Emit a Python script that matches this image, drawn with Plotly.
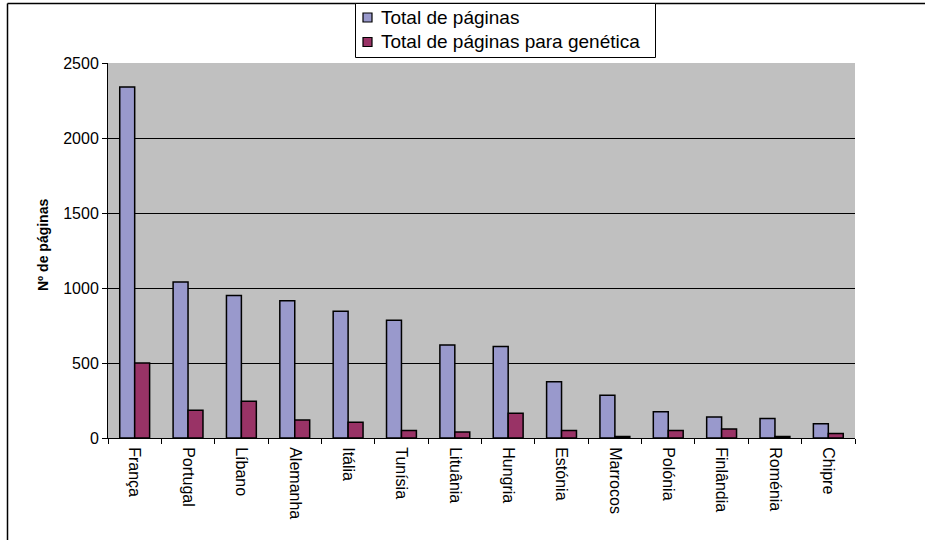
import plotly.graph_objects as go

paises = ["França", "Portugal", "Líbano", "Alemanha", "Itália", "Tunísia", "Lituânia",
          "Hungria", "Estónia", "Marrocos", "Polónia", "Finlândia", "Roménia", "Chipre"]
total_paginas = [2340, 1040, 950, 915, 845, 785, 620, 610, 375, 285, 175, 140, 130, 95]
total_genetica = [500, 185, 245, 120, 105, 50, 40, 165, 50, 10, 50, 60, 10, 30]
y_ticks = [0, 500, 1000, 1500, 2000, 2500]

series_names = ["Total de páginas", "Total de páginas para genética"]
series_colors = ["#9999CC", "#993366"]

FONT = "Liberation Sans, Arial, sans-serif"

fig = go.Figure()
for name, vals, col in zip(series_names, [total_paginas, total_genetica], series_colors):
    fig.add_trace(go.Bar(
        x=paises, y=vals, name=name,
        marker=dict(color=col, line=dict(color="#000000", width=1.5)),
    ))

# plot area in pixels: left 108, right 855, top 63, bottom 438
L, R, T, B = 108, 855, 63, 438
W, H = R - L, B - T

def px(x):
    return (x - L) / W

def py(y):
    return (B - y) / H

shapes = [
    # outer chart frame (left and top edges visible)
    dict(type="line", xref="paper", yref="paper",
         x0=px(7.5), x1=px(7.5), y0=py(3.5), y1=py(560),
         line=dict(color="#000000", width=1.5)),
    dict(type="line", xref="paper", yref="paper",
         x0=px(7.5), x1=px(940), y0=py(3.5), y1=py(3.5),
         line=dict(color="#000000", width=1.5)),
    # legend box
    dict(type="rect", xref="paper", yref="paper",
         x0=px(355.5), x1=px(655.5), y0=py(3.5), y1=py(57.5),
         fillcolor="#FFFFFF", line=dict(color="#000000", width=1)),
]
annotations = [dict(
    text="<b>Nº de páginas</b>", textangle=-90,
    x=px(43), y=py(245), xref="paper", yref="paper",
    xanchor="center", yanchor="middle", showarrow=False,
    font=dict(family=FONT, size=14, color="#000000"),
)]

# legend entries: swatch + label per series
row_centers = [17.5, 42]
for name, col, yc in zip(series_names, series_colors, row_centers):
    shapes.append(dict(
        type="rect", xref="paper", yref="paper",
        x0=px(363), x1=px(372), y0=py(yc - 4.5), y1=py(yc + 4.5),
        fillcolor=col, line=dict(color="#000000", width=1.2),
    ))
    annotations.append(dict(
        text=name, x=px(379), y=py(yc), xref="paper", yref="paper",
        xanchor="left", yanchor="middle", showarrow=False,
        font=dict(family=FONT, size=19, color="#000000"),
    ))

fig.update_layout(
    width=925, height=540,
    margin=dict(l=L, r=925 - R, t=T, b=540 - B, pad=0, autoexpand=False),
    paper_bgcolor="#FFFFFF",
    plot_bgcolor="#C0C0C0",
    barmode="group", bargap=0.44, bargroupgap=0,
    font=dict(family=FONT, color="#000000"),
    showlegend=False,
    xaxis=dict(
        showline=True, linecolor="#000000", linewidth=1,
        ticks="outside", ticklen=5, tickcolor="#000000", tickson="boundaries",
        tickangle=90, tickfont=dict(family=FONT, size=16, color="#000000"),
        ticklabelstandoff=5,
        showgrid=False, mirror=False,
    ),
    yaxis=dict(
        range=[0, 2500], tickvals=y_ticks,
        showline=True, linecolor="#000000", linewidth=1,
        ticks="outside", ticklen=5, tickcolor="#000000",
        tickfont=dict(family=FONT, size=16, color="#000000"),
        showgrid=True, gridcolor="#000000", gridwidth=1,
        zeroline=False,
    ),
    annotations=annotations,
    shapes=shapes,
)

fig.write_html("out.html")
